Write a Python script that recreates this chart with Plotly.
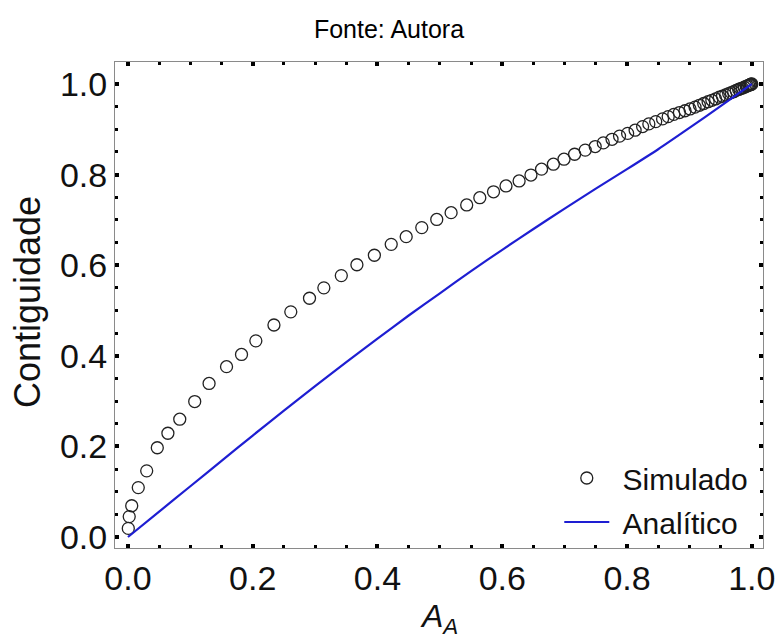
import plotly.graph_objects as go

# Simulated points (A_A, Contiguidade)
sim_x = [0.0005, 0.002, 0.006, 0.0165, 0.030, 0.047, 0.064, 0.083, 0.107, 0.130,
         0.158, 0.182, 0.205, 0.234, 0.261, 0.291, 0.314, 0.342, 0.367, 0.395,
         0.422, 0.446, 0.471, 0.495, 0.518, 0.543, 0.564, 0.586, 0.606, 0.627,
         0.646, 0.663, 0.682, 0.699, 0.716, 0.733, 0.749, 0.762, 0.776, 0.788,
         0.801, 0.813, 0.825, 0.835, 0.846, 0.857, 0.866, 0.875, 0.884, 0.893,
         0.901, 0.909, 0.916, 0.923, 0.930, 0.936, 0.942, 0.948, 0.953, 0.958,
         0.963, 0.967, 0.971, 0.975, 0.979, 0.982, 0.985, 0.988, 0.991, 0.993,
         0.995, 0.997, 0.998, 0.999, 1.000]
sim_y = [0.019, 0.045, 0.069, 0.109, 0.146, 0.197, 0.229, 0.260, 0.299, 0.339,
         0.376, 0.403, 0.433, 0.468, 0.497, 0.527, 0.550, 0.577, 0.601, 0.622,
         0.646, 0.663, 0.683, 0.701, 0.716, 0.733, 0.749, 0.762, 0.775, 0.786,
         0.799, 0.812, 0.823, 0.834, 0.845, 0.854, 0.862, 0.870, 0.878, 0.885,
         0.891, 0.898, 0.906, 0.912, 0.917, 0.923, 0.928, 0.933, 0.937, 0.941,
         0.945, 0.949, 0.953, 0.957, 0.961, 0.964, 0.967, 0.971, 0.973, 0.976,
         0.979, 0.981, 0.983, 0.986, 0.988, 0.990, 0.991, 0.993, 0.995, 0.996,
         0.997, 0.998, 0.999, 0.9995, 1.000]

# Analytical curve
ana_x = [0.0, 0.05, 0.1, 0.15, 0.2, 0.25, 0.3, 0.35, 0.4, 0.45, 0.5, 0.55,
         0.6, 0.65, 0.7, 0.75, 0.8, 0.85, 0.9, 0.95, 1.0]
ana_y = [0.0, 0.056, 0.112, 0.168, 0.224, 0.279, 0.333, 0.386, 0.438, 0.489,
         0.538, 0.587, 0.634, 0.680, 0.725, 0.769, 0.812, 0.856, 0.903, 0.951, 1.0]

x_ticks = [0.0, 0.2, 0.4, 0.6, 0.8, 1.0]
y_ticks = [0.0, 0.2, 0.4, 0.6, 0.8, 1.0]

FONT = "Arial, Liberation Sans, sans-serif"
NB = "\u00a0"

fig = go.Figure()
fig.add_trace(go.Scatter(
    x=sim_x, y=sim_y, mode="markers", name=NB + "Simulado",
    legendgroup="a",
    marker=dict(symbol="circle-open", size=12, color="#222222",
                line=dict(width=1.3, color="#222222")),
))
fig.add_trace(go.Scatter(
    x=ana_x, y=ana_y, mode="lines", name=NB + "Analítico",
    legendgroup="b",
    line=dict(color="rgb(30,30,210)", width=2.2, shape="spline", smoothing=0.6),
))

axis_common = dict(
    ticks="inside", ticklen=4, tickwidth=4, tickcolor="black",
    showline=True, linecolor="#8a8a8a", linewidth=1, mirror="allticks",
    showgrid=False, zeroline=False, automargin=False,
    tickfont=dict(family=FONT, size=34, color="#111111"),
    minor=dict(ticks="inside", ticklen=3, tickwidth=3, tickcolor="black",
               dtick=0.05, showgrid=False),
)

fig.update_xaxes(range=[-0.0208, 1.018], tickvals=x_ticks,
                 ticktext=[f"{v:.1f}" for v in x_ticks], **axis_common)
fig.update_yaxes(range=[-0.0243, 1.0486], tickvals=y_ticks,
                 ticktext=[f"{v:.1f}" for v in y_ticks], **axis_common)

fig.update_layout(
    width=778, height=641,
    margin=dict(l=115, r=15, t=62, b=93),
    paper_bgcolor="white", plot_bgcolor="white",
    font=dict(family=FONT, color="#111111"),
    title=dict(text="Fonte: Autora", x=0.5, xanchor="center",
               y=1 - 29 / 641, yanchor="middle",
               font=dict(family=FONT, size=25, color="black")),
    legend=dict(x=0.985, y=0.0, xanchor="right", yanchor="bottom",
                bgcolor="rgba(255,255,255,0)", borderwidth=0,
                font=dict(family=FONT, size=30, color="#111111"),
                tracegroupgap=2, itemwidth=45),
    annotations=[
        dict(text="<i>A</i><sub><i>A</i></sub>", xref="paper", yref="paper",
             x=0.5, y=-0.098, xanchor="center", yanchor="top", showarrow=False,
             font=dict(family=FONT, size=32, color="#111111")),
        dict(text="Contiguidade", xref="paper", yref="paper",
             x=-0.135, y=0.505, xanchor="center", yanchor="middle",
             textangle=-90, showarrow=False,
             font=dict(family=FONT, size=36, color="#111111")),
    ],
)

fig.write_html("out.html")
